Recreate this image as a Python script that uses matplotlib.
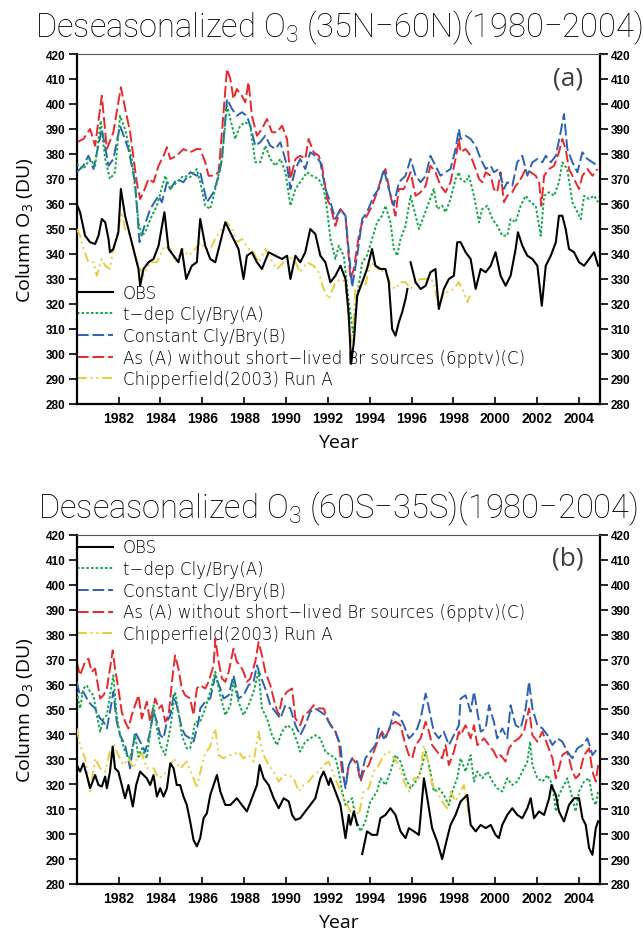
import numpy as np
import matplotlib
matplotlib.use('Agg')
from matplotlib import pyplot as plt

plt.rcParams['mathtext.default'] = 'regular'

# ---------------- panel (a): 35N-60N ----------------
yr_obs_a = [1980.00, 1980.16, 1980.40, 1980.64, 1980.88, 1981.04, 1981.20, 1981.36, 1981.52, 1981.59,
            1981.75, 1981.99, 1982.11, 1982.31, 1982.55, 1982.79, 1982.95, 1983.03, 1983.19, 1983.43,
            1983.67, 1983.91, 1984.19, 1984.39, 1984.63, 1984.86, 1985.02, 1985.23, 1985.50, 1985.74,
            1985.90, 1986.14, 1986.38, 1986.62, 1986.86, 1987.10, 1987.26, 1987.49, 1987.73, 1987.97,
            1988.13, 1988.37, 1988.61, 1988.85, 1989.17, 1989.49, 1989.81, 1990.05, 1990.21, 1990.45,
            1990.68, 1990.92, 1991.16, 1991.40, 1991.64, 1991.88, 1992.12, 1992.36, 1992.60, 1992.84,
            1993.00, 1993.11, 1993.24, 1993.40, 1993.64, 1993.87, 1994.11, 1994.27, 1994.51, 1994.75,
            1994.91, 1995.07, 1995.23, 1995.39, 1995.55, 1995.71, 1995.80, 1995.88, 1995.95, 1996.19, 1996.43,
            1996.67, 1996.90, 1997.14, 1997.30, 1997.54, 1997.78, 1998.02, 1998.18, 1998.34, 1998.58,
            1998.82, 1999.06, 1999.30, 1999.54, 1999.78, 2000.01, 2000.25, 2000.49, 2000.73, 2000.97,
            2001.08, 2001.29, 2001.53, 2001.77, 2002.01, 2002.22, 2002.41, 2002.65, 2002.89, 2003.04,
            2003.20, 2003.36, 2003.52, 2003.76, 2004.00, 2004.24, 2004.48, 2004.72, 2004.91]
obs_a = [360.0, 356.7, 347.3, 344.7, 344.0, 347.3, 354.0, 352.7, 346.0, 340.7,
         342.0, 348.7, 366.0, 355.3, 347.3, 339.3, 334.0, 327.3, 334.0, 336.7,
         338.0, 343.3, 356.7, 342.0, 339.3, 336.7, 342.0, 330.0, 335.3, 336.7,
         354.0, 343.3, 338.0, 336.7, 344.7, 352.7, 350.0, 346.0, 342.0, 330.0,
         339.3, 340.7, 336.7, 334.0, 340.7, 339.3, 338.0, 339.3, 330.0, 339.3,
         336.7, 340.7, 350.0, 348.0, 339.3, 336.7, 328.7, 331.3, 335.3, 330.0,
         315.3, 296.0, 304.7, 323.3, 328.7, 334.0, 342.0, 335.3, 334.0, 334.0,
         328.7, 310.0, 307.3, 312.7, 316.7, 322.0, 326.0, np.nan, 336.7, 328.7, 326.0,
         327.3, 332.7, 334.0, 318.0, 326.0, 330.0, 331.3, 344.7, 344.7, 340.7,
         338.0, 326.0, 334.0, 332.7, 335.3, 340.7, 331.3, 327.3, 331.3, 342.0,
         348.7, 343.3, 339.3, 338.0, 335.3, 319.3, 335.3, 339.3, 344.7, 355.3,
         355.3, 350.0, 342.0, 340.7, 336.7, 335.3, 338.0, 340.7, 335.3]

yr_tdep_a = [1980.00, 1980.32, 1980.64, 1980.88, 1981.15, 1981.36, 1981.59, 1981.83, 1982.07, 1982.31,
             1982.63, 1982.79, 1982.95, 1983.11, 1983.27, 1983.59, 1983.83, 1984.23, 1984.47, 1984.78,
             1985.10, 1985.42, 1985.74, 1985.90, 1986.14, 1986.38, 1986.70, 1986.94, 1987.18, 1987.42,
             1987.57, 1987.81, 1988.05, 1988.29, 1988.53, 1988.77, 1989.01, 1989.25, 1989.49, 1989.73,
             1989.97, 1990.21, 1990.45, 1990.68, 1991.00, 1991.24, 1991.56, 1991.80, 1991.96, 1992.12,
             1992.36, 1992.52, 1992.76, 1993.00, 1993.20, 1993.40, 1993.64, 1993.87, 1994.11, 1994.35,
             1994.59, 1994.75, 1994.99, 1995.15, 1995.31, 1995.47, 1995.71, 1995.95, 1996.19, 1996.35,
             1996.59, 1996.83, 1997.06, 1997.22, 1997.46, 1997.62, 1997.86, 1998.10, 1998.26, 1998.34,
             1998.58, 1998.74, 1998.98, 1999.22, 1999.38, 1999.62, 1999.86, 2000.09, 2000.33, 2000.57,
             2000.73, 2000.97, 2001.21, 2001.45, 2001.69, 2001.93, 2002.17, 2002.33, 2002.57, 2002.81,
             2003.04, 2003.20, 2003.44, 2003.68, 2003.92, 2004.08, 2004.24, 2004.48, 2004.72, 2004.91]
tdep_a = [376.0, 374.0, 378.0, 375.3, 393.3, 378.0, 370.0, 372.7, 395.3, 390.0,
          378.0, 366.0, 352.7, 347.3, 348.7, 355.3, 359.3, 371.3, 366.0, 368.7,
          371.3, 370.7, 374.0, 368.7, 359.3, 358.0, 368.7, 378.0, 399.3, 391.3,
          386.0, 391.3, 392.7, 391.3, 376.7, 376.7, 383.3, 378.0, 375.3, 378.0,
          372.7, 359.3, 366.0, 368.7, 372.7, 371.3, 370.0, 366.0, 358.0, 346.0,
          338.0, 343.3, 339.3, 320.7, 308.7, 323.3, 336.7, 339.3, 346.0, 352.7,
          355.3, 359.3, 352.7, 342.0, 339.3, 346.0, 351.3, 363.3, 355.3, 350.0,
          355.3, 360.7, 366.0, 358.0, 359.3, 356.7, 362.0, 370.0, 372.7, 370.0,
          368.7, 371.3, 363.3, 352.7, 358.0, 359.3, 354.0, 351.3, 347.3, 347.3,
          354.0, 352.7, 359.3, 363.3, 360.7, 359.3, 347.3, 363.3, 364.7, 363.3,
          368.7, 376.7, 374.0, 360.7, 356.7, 353.9, 363.3, 362.0, 363.3, 360.7]

yr_const_a = [1980.00, 1980.32, 1980.56, 1980.80, 1981.20, 1981.52, 1981.75, 1982.07, 1982.47, 1982.79,
              1983.00, 1983.19, 1983.51, 1983.91, 1984.07, 1984.31, 1984.47, 1984.78, 1985.10, 1985.42,
              1985.74, 1985.90, 1986.22, 1986.54, 1986.78, 1986.94, 1987.18, 1987.42, 1987.65, 1987.89,
              1988.13, 1988.29, 1988.53, 1988.77, 1989.01, 1989.25, 1989.49, 1989.73, 1990.05, 1990.21,
              1990.45, 1990.68, 1990.92, 1991.16, 1991.40, 1991.64, 1991.88, 1992.12, 1992.36, 1992.60,
              1992.84, 1993.16, 1993.40, 1993.64, 1993.87, 1994.19, 1994.43, 1994.67, 1994.91, 1995.15,
              1995.39, 1995.71, 1995.95, 1996.19, 1996.43, 1996.67, 1996.90, 1997.14, 1997.38, 1997.62,
              1997.86, 1998.10, 1998.26, 1998.34, 1998.58, 1998.82, 1999.06, 1999.30, 1999.54, 1999.78,
              1999.93, 2000.17, 2000.41, 2000.57, 2000.81, 2001.05, 2001.29, 2001.53, 2001.77, 2002.01,
              2002.25, 2002.41, 2002.65, 2002.89, 2003.12, 2003.28, 2003.44, 2003.68, 2003.92, 2004.16,
              2004.40, 2004.64, 2004.88]
const_a = [372.7, 375.3, 379.3, 374.0, 390.0, 375.3, 378.0, 391.3, 382.0, 368.7,
           344.7, 350.0, 358.0, 363.3, 360.7, 368.7, 366.0, 370.0, 368.7, 372.7,
           371.3, 372.7, 360.7, 364.7, 371.3, 378.0, 402.0, 398.0, 395.3, 396.7,
           395.3, 391.3, 383.3, 384.7, 387.3, 383.3, 382.0, 384.7, 375.3, 366.0,
           374.0, 378.0, 374.0, 380.7, 379.3, 376.7, 366.0, 360.7, 354.0, 358.0,
           355.3, 326.7, 339.3, 354.0, 356.7, 363.3, 366.0, 374.0, 366.0, 359.3,
           368.7, 371.3, 378.0, 371.3, 368.7, 371.3, 379.3, 375.3, 371.3, 372.7,
           374.0, 382.0, 390.0, 386.0, 387.3, 386.0, 383.3, 378.0, 374.0, 375.3,
           372.7, 374.0, 366.0, 368.7, 367.3, 376.7, 379.3, 371.3, 376.7, 378.0,
           376.7, 379.3, 376.7, 379.3, 388.7, 396.0, 382.0, 376.7, 372.7, 380.7,
           378.0, 376.7, 375.3]

yr_nosl_a = [1980.00, 1980.32, 1980.64, 1980.88, 1981.20, 1981.44, 1981.75, 1982.11, 1982.55, 1982.87,
             1983.03, 1983.19, 1983.43, 1983.67, 1983.91, 1984.15, 1984.31, 1984.47, 1984.78, 1985.10,
             1985.42, 1985.74, 1985.90, 1986.14, 1986.30, 1986.54, 1986.78, 1986.94, 1987.18, 1987.34,
             1987.49, 1987.65, 1987.89, 1988.05, 1988.21, 1988.37, 1988.61, 1988.85, 1989.09, 1989.33,
             1989.57, 1989.81, 1990.05, 1990.21, 1990.45, 1990.68, 1990.92, 1991.08, 1991.32, 1991.56,
             1991.72, 1991.96, 1992.12, 1992.36, 1992.60, 1992.84, 1993.08, 1993.24, 1993.48, 1993.64,
             1993.87, 1994.11, 1994.35, 1994.59, 1994.75, 1994.99, 1995.23, 1995.39, 1995.63, 1995.95,
             1996.19, 1996.43, 1996.67, 1996.90, 1997.14, 1997.38, 1997.62, 1997.86, 1998.10, 1998.26,
             1998.34, 1998.58, 1998.82, 1999.06, 1999.22, 1999.38, 1999.54, 1999.78, 1999.93, 2000.09,
             2000.25, 2000.41, 2000.57, 2000.81, 2000.97, 2001.13, 2001.29, 2001.45, 2001.69, 2001.93,
             2002.09, 2002.20, 2002.33, 2002.57, 2002.81, 2003.04, 2003.20, 2003.36, 2003.52, 2003.76,
             2004.00, 2004.16, 2004.40, 2004.64, 2004.88]
nosl_a = [384.7, 386.0, 390.0, 383.3, 403.3, 382.0, 388.7, 406.7, 388.7, 368.7,
          362.0, 364.7, 370.0, 368.7, 375.3, 379.3, 382.7, 378.0, 379.3, 382.0,
          380.7, 382.0, 382.0, 376.7, 371.3, 371.3, 372.7, 388.7, 414.0, 410.0,
          402.0, 406.0, 403.3, 400.7, 408.7, 395.3, 387.3, 390.0, 394.0, 388.7,
          388.7, 391.3, 386.0, 370.0, 378.0, 379.3, 378.0, 386.0, 380.7, 379.3,
          375.3, 362.0, 359.3, 351.3, 358.0, 355.3, 330.0, 334.0, 347.3, 352.7,
          355.3, 359.3, 364.7, 371.3, 374.0, 363.3, 355.3, 366.0, 366.0, 372.7,
          363.3, 364.7, 367.3, 375.3, 372.7, 367.3, 364.7, 368.7, 378.0, 386.0,
          380.7, 382.0, 379.3, 374.0, 370.0, 368.7, 372.7, 371.3, 366.0, 364.7,
          372.7, 360.7, 363.3, 364.7, 367.3, 368.7, 371.3, 374.0, 372.7, 371.3,
          368.7, 359.3, 371.3, 374.0, 375.3, 380.7, 386.0, 382.0, 374.0, 370.0,
          366.0, 371.3, 374.0, 371.3, 374.0]

yr_chip_a = [1980.00, 1980.16, 1980.32, 1980.56, 1980.80, 1980.96, 1981.20, 1981.36, 1981.59, 1981.75,
             1981.99, 1982.15, 1982.31, 1982.55, 1982.79, 1983.03, 1983.19, 1983.51, 1983.83, 1984.19,
             1984.47, 1984.71, 1985.10, 1985.34, 1985.66, 1985.90, 1986.14, 1986.38, 1986.70, 1986.94,
             1987.18, 1987.42, 1987.65, 1987.89, 1988.21, 1988.45, 1988.69, 1989.01, 1989.25, 1989.57,
             1989.89, 1990.13, 1990.45, 1990.68, 1991.00, 1991.32, 1991.56, 1991.80, 1992.04, 1992.36,
             1992.60, 1992.84, 1993.00, 1993.16, 1993.32, 1993.56, 1993.79, 1994.03, 1994.27, 1994.51,
             1994.75, 1994.99, 1995.23, 1995.47, 1995.71, 1995.95, 1996.19, 1996.43, 1996.67, 1996.90,
             1997.06, 1997.30, 1997.54, 1997.78, 1998.02, 1998.26, 1998.34, 1998.50, 1998.66, 1998.79]
chip_a = [350.0, 347.3, 342.0, 336.7, 336.7, 331.3, 338.0, 335.3, 334.0, 342.0,
          350.0, 356.7, 350.0, 347.3, 339.3, 334.0, 331.3, 336.7, 336.7, 343.3,
          342.0, 336.7, 342.0, 339.3, 342.0, 344.7, 342.0, 342.0, 347.3, 350.0,
          352.7, 350.0, 344.7, 346.0, 342.0, 340.7, 336.7, 342.0, 338.0, 334.0,
          336.7, 339.3, 336.7, 332.7, 336.7, 335.3, 332.7, 326.0, 322.0, 328.7,
          330.0, 328.7, 312.7, 304.7, 326.0, 328.7, 327.3, 336.7, 335.3, 332.7,
          334.0, 327.3, 326.0, 328.7, 328.7, 326.0, 328.7, 330.0, 330.0, 330.0,
          328.7, 318.0, 324.7, 324.7, 326.0, 328.7, 327.3, 324.7, 320.7, 323.3]

# ---------------- panel (b): 60S-35S ----------------
yr_obs_b = [1980.00, 1980.16, 1980.32, 1980.48, 1980.64, 1980.88, 1981.04, 1981.20, 1981.36, 1981.44,
            1981.59, 1981.72, 1981.83, 1981.99, 1982.15, 1982.31, 1982.47, 1982.68, 1982.84, 1983.03,
            1983.19, 1983.35, 1983.51, 1983.67, 1983.83, 1983.99, 1984.15, 1984.31, 1984.47, 1984.63,
            1984.78, 1984.94, 1985.10, 1985.26, 1985.42, 1985.58, 1985.74, 1985.90, 1986.06, 1986.22,
            1986.38, 1986.70, 1986.86, 1987.10, 1987.34, 1987.65, 1987.89, 1988.13, 1988.37, 1988.61,
            1988.74, 1988.93, 1989.17, 1989.41, 1989.65, 1989.89, 1990.13, 1990.29, 1990.45, 1990.68,
            1990.92, 1991.16, 1991.40, 1991.64, 1991.80, 1992.04, 1992.12, 1992.36, 1992.60, 1992.84,
            1993.00, 1993.08, 1993.24, 1993.40, 1993.50, 1993.64, 1993.87, 1994.11, 1994.35, 1994.51,
            1994.75, 1994.99, 1995.23, 1995.47, 1995.71, 1995.87, 1996.11, 1996.35, 1996.59, 1996.75,
            1996.98, 1997.22, 1997.46, 1997.70, 1997.86, 1998.10, 1998.34, 1998.50, 1998.66, 1998.82,
            1999.06, 1999.30, 1999.54, 1999.78, 2000.01, 2000.17, 2000.33, 2000.57, 2000.81, 2001.05,
            2001.29, 2001.53, 2001.69, 2001.85, 2002.09, 2002.33, 2002.57, 2002.68, 2002.89, 2003.04,
            2003.28, 2003.52, 2003.76, 2004.00, 2004.16, 2004.32, 2004.48, 2004.64, 2004.80, 2004.91]
obs_b = [327.7, 325.1, 328.4, 323.7, 318.4, 323.7, 319.7, 319.1, 323.1, 318.4,
         325.1, 335.1, 326.4, 325.1, 319.7, 314.4, 319.7, 311.1, 319.7, 325.1,
         323.7, 322.4, 319.7, 323.7, 315.1, 318.4, 315.1, 318.4, 328.4, 326.4,
         319.7, 319.7, 315.1, 311.7, 305.1, 297.7, 295.1, 298.4, 306.4, 308.4,
         315.7, 323.7, 317.1, 311.7, 311.7, 314.4, 311.7, 309.1, 314.4, 319.7,
         327.7, 322.4, 319.7, 314.4, 310.4, 314.4, 313.1, 307.7, 305.7, 306.4,
         309.1, 311.7, 314.4, 322.4, 325.1, 319.7, 322.4, 317.1, 311.7, 298.4,
         307.7, 303.7, 309.1, 303.7, np.nan, 292.0, 301.1, 299.7, 299.7, 306.4,
         307.7, 310.4, 307.7, 301.1, 298.4, 302.4, 301.1, 299.7, 322.4, 314.4,
         302.4, 297.1, 290.0, 298.4, 303.7, 307.7, 313.1, 314.4, 315.7, 303.7,
         301.1, 303.7, 302.4, 303.7, 299.7, 298.4, 303.7, 307.7, 310.4, 307.7,
         306.4, 310.4, 314.4, 306.4, 309.1, 307.7, 314.4, 319.7, 315.7, 309.1,
         305.1, 311.7, 314.4, 314.4, 306.4, 303.7, 294.4, 291.7, 302.4, 305.1]

yr_tdep_b = [1980.00, 1980.16, 1980.32, 1980.48, 1980.64, 1980.80, 1980.96, 1981.12, 1981.28, 1981.44,
             1981.59, 1981.75, 1981.91, 1982.07, 1982.31, 1982.55, 1982.79, 1982.95, 1983.11, 1983.35,
             1983.67, 1983.83, 1983.99, 1984.23, 1984.47, 1984.70, 1984.86, 1985.02, 1985.26, 1985.42,
             1985.66, 1985.90, 1986.14, 1986.38, 1986.62, 1986.86, 1987.10, 1987.34, 1987.49, 1987.73,
             1987.97, 1988.21, 1988.45, 1988.69, 1988.85, 1989.09, 1989.33, 1989.57, 1989.81, 1990.05,
             1990.29, 1990.53, 1990.68, 1990.92, 1991.16, 1991.40, 1991.64, 1991.88, 1992.12, 1992.36,
             1992.52, 1992.68, 1992.84, 1993.00, 1993.16, 1993.32, 1993.56, 1993.79, 1994.03, 1994.35,
             1994.51, 1994.75, 1994.99, 1995.23, 1995.47, 1995.71, 1995.95, 1996.19, 1996.43, 1996.67,
             1996.90, 1997.06, 1997.30, 1997.54, 1997.78, 1997.94, 1998.18, 1998.34, 1998.58, 1998.82,
             1998.98, 1999.14, 1999.38, 1999.62, 1999.86, 2000.09, 2000.33, 2000.57, 2000.81, 2001.05,
             2001.29, 2001.53, 2001.66, 2001.77, 2002.01, 2002.25, 2002.49, 2002.73, 2002.89, 2003.04,
             2003.28, 2003.44, 2003.68, 2003.84, 2004.00, 2004.24, 2004.48, 2004.64, 2004.80, 2004.91]
tdep_b = [357.1, 350.4, 358.4, 359.7, 357.1, 355.7, 347.7, 341.1, 346.4, 347.7,
          355.7, 363.7, 347.7, 339.7, 333.1, 330.4, 339.7, 331.0, 334.4, 330.4,
          351.7, 342.4, 335.7, 331.7, 342.4, 357.1, 349.1, 339.7, 334.4, 334.4,
          345.1, 345.1, 350.4, 357.1, 365.1, 355.7, 347.7, 351.7, 361.1, 353.1,
          347.7, 351.7, 357.1, 365.1, 350.4, 346.4, 339.7, 335.7, 341.1, 343.7,
          342.4, 337.1, 333.1, 337.1, 338.4, 339.7, 338.4, 333.1, 331.7, 330.4,
          325.1, 317.1, 311.7, 313.1, 314.4, 306.4, 301.1, 305.1, 313.1, 317.1,
          322.4, 319.7, 325.1, 331.7, 329.1, 322.4, 318.4, 321.1, 325.1, 333.1,
          325.1, 317.1, 318.4, 315.7, 311.7, 317.1, 322.4, 330.4, 325.1, 331.7,
          321.1, 325.1, 322.4, 325.1, 321.1, 318.4, 317.1, 322.4, 319.7, 321.1,
          325.1, 329.1, 337.1, 327.7, 322.4, 321.1, 323.7, 319.7, 309.1, 315.7,
          319.7, 322.4, 314.4, 309.1, 317.1, 321.1, 322.4, 314.4, 311.7, 317.1]

yr_const_b = [1980.00, 1980.16, 1980.32, 1980.56, 1980.72, 1980.88, 1981.12, 1981.28, 1981.44, 1981.59,
              1981.75, 1981.91, 1982.07, 1982.31, 1982.55, 1982.79, 1983.03, 1983.27, 1983.51, 1983.67,
              1983.83, 1983.99, 1984.15, 1984.31, 1984.47, 1984.63, 1984.78, 1985.02, 1985.18, 1985.42,
              1985.58, 1985.82, 1985.90, 1986.14, 1986.38, 1986.62, 1986.86, 1987.02, 1987.26, 1987.49,
              1987.73, 1987.97, 1988.21, 1988.45, 1988.61, 1988.77, 1989.01, 1989.25, 1989.49, 1989.73,
              1989.97, 1990.21, 1990.45, 1990.68, 1990.92, 1991.16, 1991.40, 1991.64, 1991.88, 1992.12,
              1992.36, 1992.60, 1992.76, 1992.84, 1993.00, 1993.16, 1993.40, 1993.56, 1993.79, 1994.03,
              1994.27, 1994.43, 1994.67, 1994.91, 1995.15, 1995.39, 1995.63, 1995.87, 1996.03, 1996.27,
              1996.43, 1996.67, 1996.83, 1997.06, 1997.30, 1997.54, 1997.78, 1998.02, 1998.26, 1998.34,
              1998.58, 1998.82, 1998.98, 1999.14, 1999.30, 1999.54, 1999.70, 1999.93, 2000.09, 2000.33,
              2000.57, 2000.73, 2000.97, 2001.21, 2001.45, 2001.61, 2001.77, 2002.01, 2002.25, 2002.49,
              2002.73, 2002.97, 2003.20, 2003.44, 2003.68, 2003.92, 2004.16, 2004.40, 2004.64, 2004.88]
const_b = [361.1, 355.7, 357.1, 353.1, 351.7, 350.4, 346.4, 345.1, 342.4, 349.1,
           357.1, 345.1, 339.7, 335.7, 326.4, 341.1, 337.1, 333.0, 341.1, 349.1,
           345.1, 339.7, 338.4, 345.1, 347.7, 355.7, 351.7, 342.4, 339.7, 338.4,
           337.1, 345.1, 350.4, 353.1, 354.4, 363.7, 358.4, 354.4, 355.7, 363.7,
           354.4, 355.7, 359.7, 361.1, 367.7, 363.7, 358.4, 351.7, 349.1, 346.4,
           351.7, 350.4, 343.7, 339.7, 343.7, 349.1, 350.4, 349.1, 347.7, 343.7,
           341.1, 335.7, 322.4, 318.4, 327.7, 330.4, 329.1, 322.4, 330.4, 333.1,
           335.7, 342.4, 338.4, 341.1, 349.1, 347.7, 343.7, 338.4, 339.7, 342.4,
           346.4, 356.4, 350.4, 341.1, 338.4, 341.1, 335.7, 339.7, 343.7, 354.4,
           355.7, 349.1, 357.1, 349.1, 341.1, 342.4, 351.7, 345.1, 338.4, 342.4,
           338.4, 351.7, 343.7, 342.4, 350.4, 361.1, 350.4, 343.7, 342.4, 339.7,
           335.7, 338.4, 337.1, 333.1, 330.4, 334.4, 335.7, 338.4, 331.7, 334.4]

yr_nosl_b = [1980.00, 1980.16, 1980.40, 1980.56, 1980.72, 1980.88, 1980.96, 1981.12, 1981.28, 1981.44,
             1981.59, 1981.72, 1981.83, 1981.99, 1982.15, 1982.31, 1982.47, 1982.63, 1982.79, 1982.95,
             1983.11, 1983.35, 1983.51, 1983.75, 1983.91, 1984.07, 1984.23, 1984.39, 1984.55, 1984.70,
             1984.86, 1985.02, 1985.18, 1985.42, 1985.58, 1985.74, 1985.90, 1986.14, 1986.30, 1986.54,
             1986.62, 1986.78, 1986.94, 1987.10, 1987.26, 1987.49, 1987.65, 1987.81, 1987.97, 1988.13,
             1988.29, 1988.53, 1988.69, 1988.85, 1989.01, 1989.25, 1989.49, 1989.65, 1989.81, 1990.05,
             1990.29, 1990.45, 1990.68, 1990.84, 1991.08, 1991.32, 1991.56, 1991.80, 1992.04, 1992.36,
             1992.52, 1992.68, 1992.84, 1993.00, 1993.16, 1993.40, 1993.56, 1993.71, 1993.95, 1994.19,
             1994.43, 1994.59, 1994.75, 1994.99, 1995.23, 1995.47, 1995.71, 1995.87, 1996.03, 1996.19,
             1996.43, 1996.67, 1996.83, 1996.98, 1997.22, 1997.46, 1997.62, 1997.78, 1998.02, 1998.26,
             1998.34, 1998.58, 1998.82, 1998.98, 1999.14, 1999.30, 1999.46, 1999.70, 1999.93, 2000.09,
             2000.25, 2000.49, 2000.65, 2000.89, 2001.13, 2001.37, 2001.61, 2001.77, 2002.01, 2002.25,
             2002.49, 2002.73, 2002.89, 2003.04, 2003.20, 2003.44, 2003.68, 2003.84, 2004.00, 2004.24,
             2004.48, 2004.64, 2004.80, 2004.91]
nosl_b = [369.1, 363.7, 369.1, 370.4, 365.1, 366.4, 362.4, 354.4, 355.7, 358.4,
          366.4, 373.7, 366.4, 358.4, 349.1, 345.1, 342.4, 347.7, 351.7, 355.7,
          346.4, 353.1, 345.1, 354.4, 350.4, 351.7, 345.1, 347.7, 361.1, 371.7,
          366.4, 358.4, 355.7, 354.4, 347.7, 358.4, 359.7, 358.4, 361.1, 367.7,
          378.4, 369.1, 362.4, 361.1, 365.1, 374.4, 369.1, 367.7, 365.1, 361.1,
          362.4, 369.1, 377.0, 371.7, 365.1, 359.7, 351.7, 347.7, 354.4, 357.1,
          358.4, 346.4, 343.7, 347.7, 349.1, 351.7, 350.4, 350.4, 345.1, 341.1,
          337.1, 325.1, 319.7, 327.7, 330.4, 327.7, 321.1, 325.1, 327.7, 333.1,
          338.4, 341.1, 338.4, 343.7, 345.1, 343.7, 335.7, 331.7, 330.4, 335.7,
          338.4, 345.1, 341.1, 335.7, 333.1, 330.4, 335.7, 327.7, 333.1, 341.1,
          339.7, 343.7, 338.4, 343.7, 335.7, 337.1, 338.4, 335.7, 333.1, 330.4,
          331.7, 329.1, 334.4, 337.1, 338.4, 341.1, 350.4, 339.7, 337.1, 341.1,
          335.7, 330.4, 322.4, 326.4, 331.7, 333.1, 325.1, 322.4, 323.7, 331.7,
          334.4, 325.1, 321.1, 327.7]

yr_chip_b = [1980.00, 1980.16, 1980.40, 1980.64, 1980.88, 1981.12, 1981.36, 1981.59, 1981.75, 1981.99,
             1982.23, 1982.47, 1982.71, 1982.87, 1983.11, 1983.35, 1983.67, 1983.91, 1984.15, 1984.39,
             1984.63, 1984.94, 1985.26, 1985.58, 1985.74, 1985.98, 1986.14, 1986.38, 1986.54, 1986.62,
             1986.78, 1987.02, 1987.26, 1987.49, 1987.73, 1987.97, 1988.21, 1988.45, 1988.69, 1988.80,
             1988.93, 1989.17, 1989.41, 1989.65, 1989.89, 1990.13, 1990.37, 1990.60, 1990.84, 1991.08,
             1991.32, 1991.56, 1991.80, 1992.04, 1992.36, 1992.60, 1992.84, 1993.08, 1993.32, 1993.48,
             1993.71, 1993.95, 1994.19, 1994.43, 1994.67, 1994.91, 1995.15, 1995.39, 1995.63, 1995.87,
             1996.11, 1996.35, 1996.59, 1996.75, 1996.98, 1997.22, 1997.46, 1997.70, 1997.86, 1998.10,
             1998.34, 1998.50, 1998.66, 1998.74]
chip_b = [342.4, 335.7, 330.4, 317.1, 330.4, 326.4, 325.1, 333.1, 336.4, 331.7,
          327.7, 330.4, 326.4, 330.4, 332.4, 326.4, 326.4, 322.4, 323.7, 325.7,
          330.4, 326.4, 329.1, 322.4, 318.4, 327.7, 332.4, 335.1, 340.4, 342.4,
          331.7, 330.4, 331.7, 331.7, 333.1, 330.4, 331.7, 329.1, 341.1, 335.7,
          331.7, 327.7, 325.1, 321.1, 323.7, 323.7, 322.4, 317.1, 319.7, 321.1,
          323.7, 325.1, 327.7, 329.1, 322.4, 317.1, 313.1, 309.1, 310.4, 307.7,
          317.1, 318.4, 325.1, 327.7, 331.7, 333.1, 330.4, 327.7, 321.1, 317.1,
          322.4, 322.4, 335.7, 330.4, 319.7, 317.1, 313.1, 310.4, 317.1, 313.1,
          317.1, 319.7, 311.7, 307.7]

labels = ['OBS', 't\u2212dep Cly/Bry(A)', 'Constant Cly/Bry(B)',
          'As (A) without short\u2212lived Br sources (6pptv)(C)', 'Chipperfield(2003) Run A']
titles = ['Deseasonalized O$_3$ (35N\u221260N)(1980\u22122004)',
          'Deseasonalized O$_3$ (60S\u221235S)(1980\u22122004)']
tags = ['(a)', '(b)']
yticks = np.arange(280, 421, 10)
xticks = np.arange(1982, 2005, 2)

thin = ['Roboto', 'DejaVu Sans']
c_obs, c_tdep, c_const, c_nosl, c_chip = 'black', '#12a84a', '#2c62b5', '#e8282c', '#e8cc3c'

fig = plt.figure(figsize=(6.43, 9.37), dpi=100)
ax_a = fig.add_axes([0.1193, 0.5678, 0.8138, 0.3735])
ax_b = fig.add_axes([0.1193, 0.0555, 0.8138, 0.3725])

panels = [
    (ax_a, (yr_obs_a, obs_a), (yr_tdep_a, tdep_a), (yr_const_a, const_a), (yr_nosl_a, nosl_a), (yr_chip_a, chip_a)),
    (ax_b, (yr_obs_b, obs_b), (yr_tdep_b, tdep_b), (yr_const_b, const_b), (yr_nosl_b, nosl_b), (yr_chip_b, chip_b)),
]

for k, (ax, o, a, b, c, ch) in enumerate(panels):
    l1, = ax.plot(o[0], o[1], color=c_obs, lw=1.5, zorder=6)
    l2, = ax.plot(a[0], a[1], color=c_tdep, lw=1.4, ls=(0, (1.3, 1.1)), zorder=4)
    l3, = ax.plot(b[0], b[1], color=c_const, lw=1.4, ls=(0, (6, 2)), zorder=3)
    l4, = ax.plot(c[0], c[1], color=c_nosl, lw=1.4, ls=(0, (6, 2)), zorder=2)
    l5, = ax.plot(ch[0], ch[1], color=c_chip, lw=1.4, ls=(0, (5, 2, 1, 2, 1, 2)), zorder=5)

    ax.set_xlim(1980, 2005)
    ax.set_ylim(280, 420)
    ax.set_xticks(xticks)
    ax.set_yticks(yticks)
    ax.tick_params(axis='x', direction='in', length=5, width=1.2, pad=5, top=False)
    ax.tick_params(axis='y', direction='out', length=6, width=1.2, pad=2,
                   left=True, right=True, labelleft=True, labelright=True)
    for t in ax.get_xticklabels():
        t.set_fontfamily('Liberation Sans')
        t.set_fontweight('bold')
        t.set_fontsize(10)
    for t in ax.get_yticklabels():
        t.set_fontfamily('Liberation Sans')
        t.set_fontweight('bold')
        t.set_fontsize(8.5)
    for s in ['left', 'right', 'bottom']:
        ax.spines[s].set_linewidth(1.6)
    ax.spines['top'].set_linewidth(0.8)
    ax.spines['top'].set_color('#555555')

    ax.set_title(titles[k], family=thin, fontweight='light', fontsize=23.5, pad=13, color='black')
    ax.set_xlabel('Year', family='Open Sans', fontsize=14, labelpad=6)
    ax.set_ylabel('Column O$_3$ (DU)', family='Open Sans', fontsize=14, labelpad=8)
    ax.text(0.968, 0.93 if k == 0 else 0.935, tags[k], transform=ax.transAxes, ha='right', va='center',
            family='Open Sans', fontsize=19, color='#404040')

    legprops = {'family': ['DejaVu Sans'], 'weight': 'light', 'size': 12}
    if k == 0:
        leg = ax.legend([l1, l2, l3, l4, l5], labels, loc='lower left', bbox_to_anchor=(0.0, 0.045),
                        frameon=False, borderpad=0, borderaxespad=0, handlelength=2.15,
                        handletextpad=0.6, labelspacing=0.22, prop=legprops)
    else:
        leg = ax.legend([l1, l2, l3, l4, l5], labels, loc='upper left', bbox_to_anchor=(0.0, 0.99),
                        frameon=False, borderpad=0, borderaxespad=0, handlelength=2.15,
                        handletextpad=0.6, labelspacing=0.22, prop=legprops)
    leg.set_zorder(1)

fig.savefig('out.png', dpi=100)
